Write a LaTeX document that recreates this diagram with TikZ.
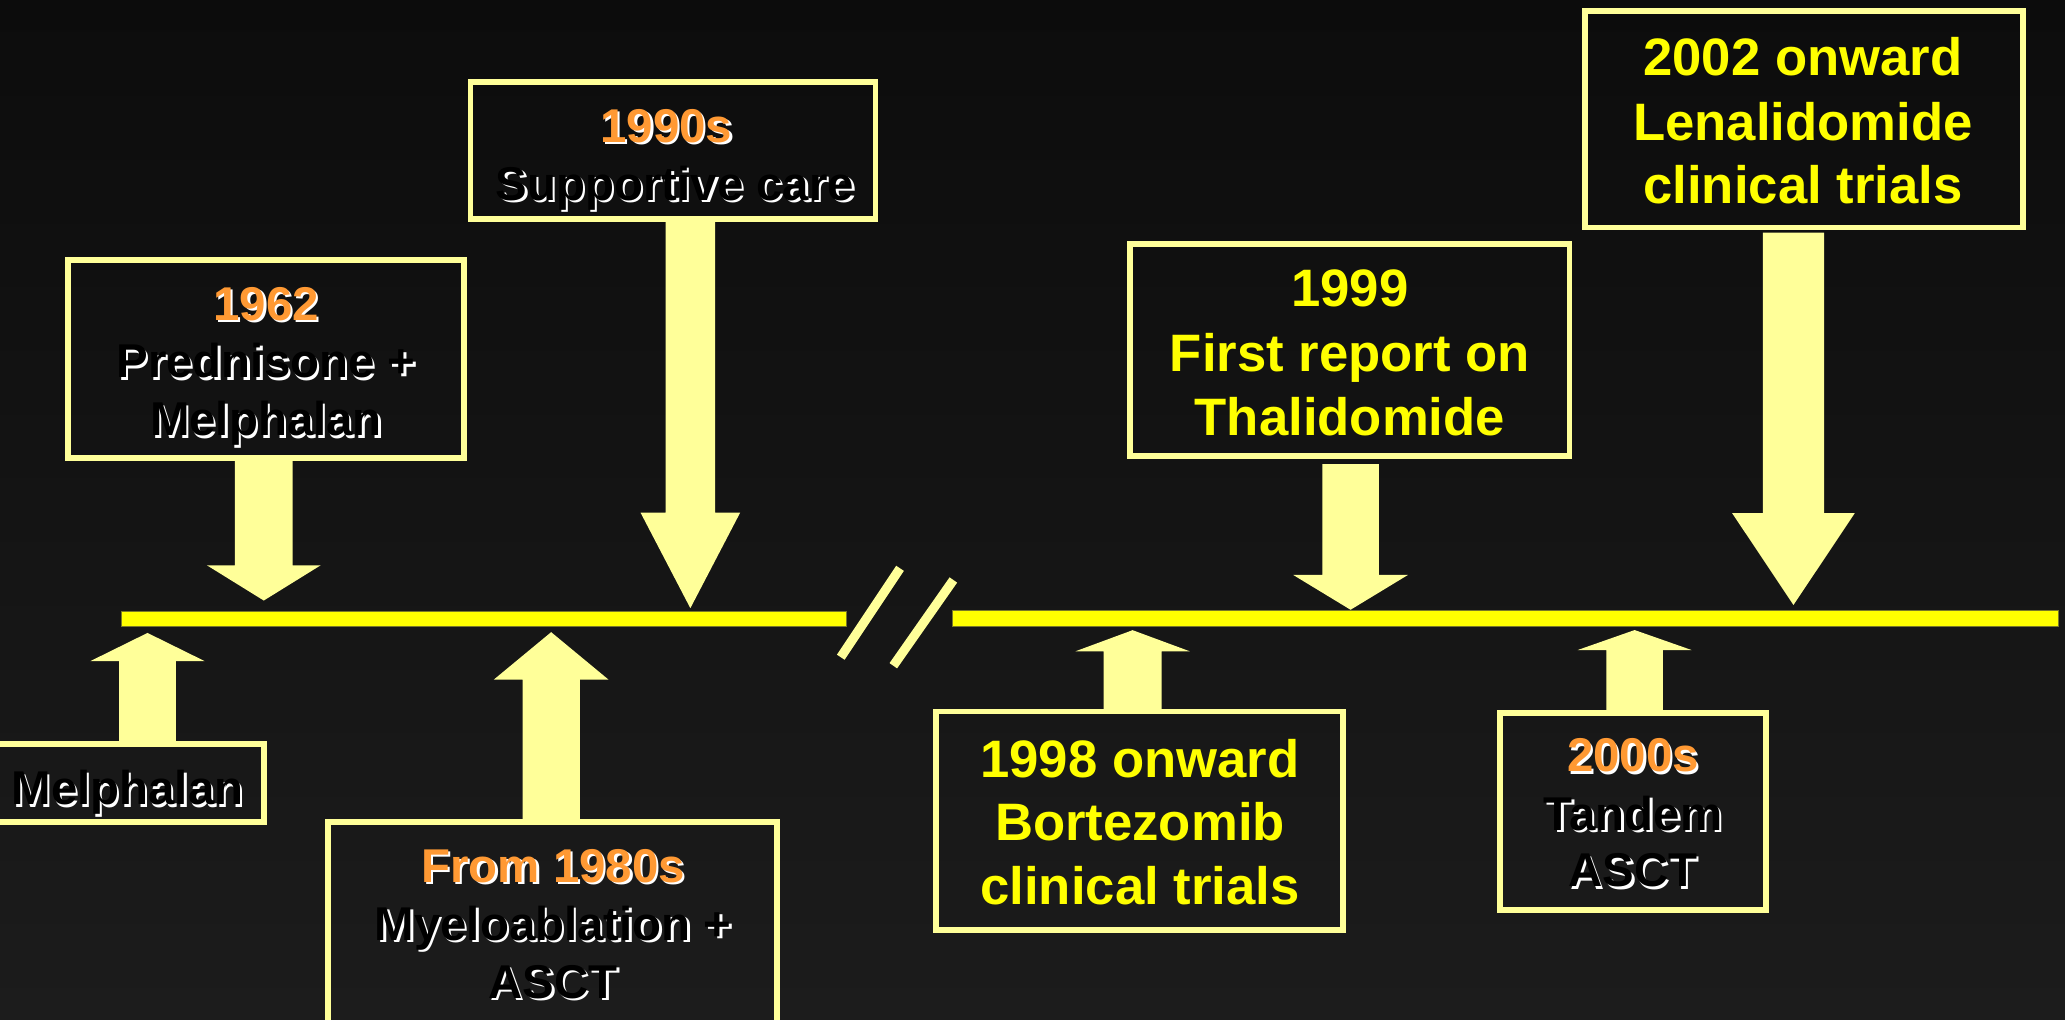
\documentclass[tikz,border=0pt]{standalone}
\usepackage{fontspec}
\setmainfont{Liberation Sans}
\usetikzlibrary{calc}
\definecolor{paley}{HTML}{FFFF99}
\definecolor{brighty}{HTML}{FFFF00}
\definecolor{orangey}{HTML}{FF9933}
\definecolor{bgtop}{RGB}{12,12,12}
\definecolor{bgbot}{RGB}{28,28,28}
\definecolor{olivey}{RGB}{120,120,40}
\newcommand\emb[2]{\makebox[0pt][l]{\hspace*{1.8pt}\raisebox{-1.8pt}{\textcolor{white}{#2}}}\textcolor{#1}{#2}}
\newcommand\downarr[5]{\fill[arrowfill] ($(#1 -| #2)+(-#3,0)$) -- ($(#1 -| #2)+(#3,0)$) -- ($(#2)+(#3,-#5)$) -- ($(#2)+(#4,-#5)$) -- (#2) -- ($(#2)+(-#4,-#5)$) -- ($(#2)+(-#3,-#5)$) -- cycle;}
\newcommand\uparr[5]{\fill[arrowfill] ($(#1 -| #2)+(-#3,0)$) -- ($(#1 -| #2)+(#3,0)$) -- ($(#2)+(#3,#5)$) -- ($(#2)+(#4,#5)$) -- (#2) -- ($(#2)+(-#4,#5)$) -- ($(#2)+(-#3,#5)$) -- cycle;}
\tikzset{
 frame/.style={draw=paley, line width=4.5pt, inner sep=0pt, outer sep=0pt},
 wtxt/.style={anchor=base, inner sep=0pt, font=\fontsize{36}{40}\selectfont\bfseries},
 ytxt/.style={anchor=base, inner sep=0pt, text=brighty, font=\fontsize{40}{46}\selectfont\bfseries},
 barfill/.style={fill=brighty, draw=olivey, line width=0.6pt, inner sep=0pt, outer sep=0pt},
 arrowfill/.style={fill=paley},
 slash/.style={draw=paley, line width=7pt},
}
\begin{document}
\begin{tikzpicture}[x=1pt,y=-1pt]
\useasboundingbox (0,0) rectangle (1568,774);
\clip (0,0) rectangle (1568,774);
\shade[top color=bgtop, bottom color=bgbot] (0,0) rectangle (1568,774);

% boxes
\node[frame, minimum width=300.25pt, minimum height=150pt] (b1962) at (201.9,272.75) {};
\node[frame, minimum width=307.5pt, minimum height=104pt] (b1990) at (511,114.25) {};
\node[frame, minimum width=210.75pt, minimum height=58.75pt] (bmelph) at (95.4,594.6) {};
\node[frame, minimum width=341pt, minimum height=165.5pt] (b1980) at (419.5,707.25) {};
\node[frame, minimum width=333.5pt, minimum height=161.1pt] (b1999) at (1025,265.8) {};
\node[frame, minimum width=333pt, minimum height=164.25pt] (b2002) at (1369.75,90.6) {};
\node[frame, minimum width=308.9pt, minimum height=166pt] (b1998) at (865.3,623.25) {};
\node[frame, minimum width=202pt, minimum height=149.5pt] (b2000) at (1239.75,616) {};

% timeline
\node[barfill, minimum width=550.3pt, minimum height=12pt] (lineL) at (367.55,470) {};
\node[barfill, minimum width=840pt, minimum height=12.5pt] (lineR) at (1143,469.5) {};

% break marks
\coordinate (s1a) at (638.4,499); \coordinate (s1b) at (683.4,431.5);
\coordinate (s2a) at (678.3,505.5); \coordinate (s2b) at (723.9,440.4);
\draw[slash] (s1a) -- (s1b);
\draw[slash] (s2a) -- (s2b);

% arrow tips and starts
\coordinate (tipA1) at (200.3,456);
\coordinate (tipA2) at (524.2,461.8);
\coordinate (tipA3) at (1025.5,463);
\coordinate (tipA4) at (1361.8,459.4);
\coordinate (tipU1) at (112,480.6);
\coordinate (tipU2) at (418.5,480);
\coordinate (tipU3) at (860,478.5);
\coordinate (tipU4) at (1241.2,478.4);
\coordinate (topA2) at ($(b1990.south)+(0,2)$);
\coordinate (topA3) at ($(b1999.south)+(0,6)$);
\coordinate (topA4) at ($(b2002.south)+(0,4)$);

\downarr{b1962.south}{tipA1}{21.9}{43.25}{26.8}
\downarr{topA2}{tipA2}{18.85}{37.8}{72.5}
\downarr{topA3}{tipA3}{21.5}{43.5}{26.4}
\downarr{topA4}{tipA4}{23.3}{46.5}{69.7}
\uparr{bmelph.north}{tipU1}{21.6}{43.4}{21.4}
\uparr{b1980.north}{tipU2}{21.75}{43.5}{36}
\uparr{b1998.north}{tipU3}{22}{43.3}{16}
\uparr{b2000.north}{tipU4}{21.45}{43.3}{15.2}

% texts
\node[wtxt] (t1962a) at (202,243) {\emb{orangey}{1962}};
\node[wtxt] (t1962b) at (202,287) {\emb{black}{Prednisone +}};
\node[wtxt] (t1962c) at (202,331) {\emb{black}{Melphalan}};

\node[wtxt] (t1990a) at (506,108) {\emb{orangey}{1990s}};
\node[wtxt] (t1990b) at (512.5,152) {\emb{black}{Supportive care}};

\node[wtxt] (tmelph) at (96.8,611) {\emb{black}{Melphalan}};

\node[wtxt] (t1980a) at (420,670) {\emb{orangey}{From 1980s}};
\node[wtxt] (t1980b) at (420,714) {\emb{black}{Myeloablation +}};
\node[wtxt] (t1980c) at (420,758) {\emb{black}{ASCT}};

\node[wtxt] (t2000a) at (1240,586) {\emb{orangey}{2000s}};
\node[wtxt] (t2000b) at (1240,630.5) {\emb{black}{Tandem}};
\node[wtxt] (t2000c) at (1240,673.5) {\emb{black}{ASCT}};

\node[ytxt] (t1999a) at (1025,233) {1999};
\node[ytxt] (t1999b) at (1025,282) {First report on};
\node[ytxt] (t1999c) at (1025,330.7) {Thalidomide};

\node[ytxt] (t2002a) at (1369,57.3) {2002 onward};
\node[ytxt] (t2002b) at (1369,106.7) {Lenalidomide};
\node[ytxt] (t2002c) at (1369,154.8) {clinical trials};

\node[ytxt] (t1998a) at (865.6,590) {1998 onward};
\node[ytxt] (t1998b) at (865.6,638.5) {Bortezomib};
\node[ytxt] (t1998c) at (865.6,687) {clinical trials};
\end{tikzpicture}
\end{document}
